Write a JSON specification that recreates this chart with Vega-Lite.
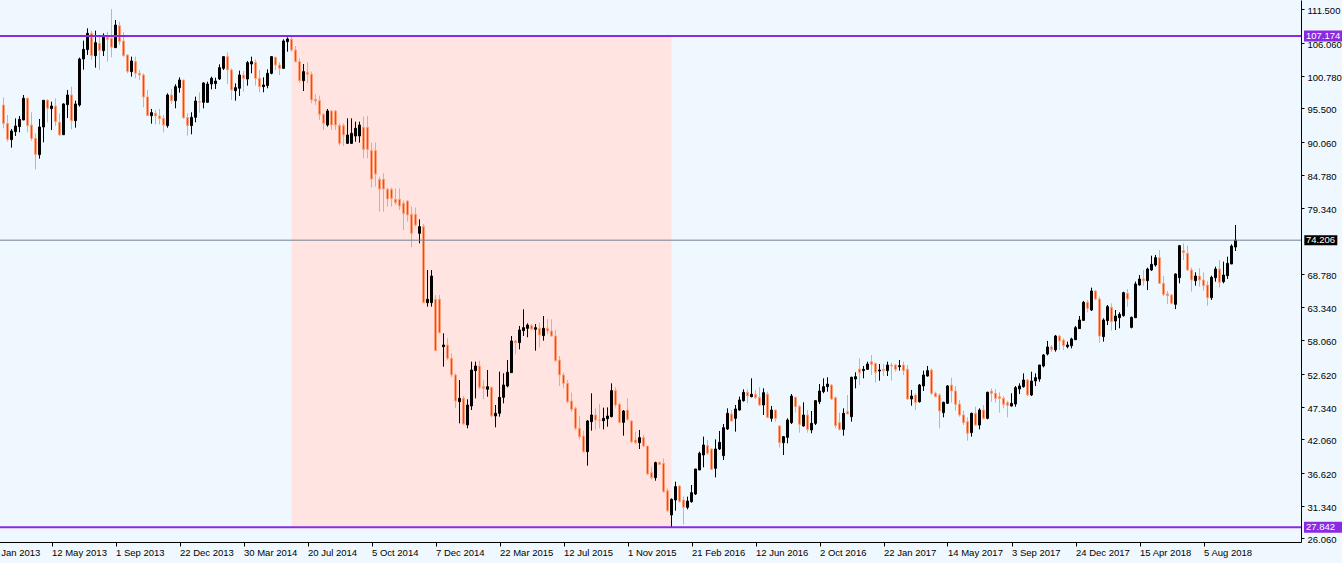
{
"$schema": "https://vega.github.io/schema/vega-lite/v6.json",
"width": 1317, "height": 542,
"autosize": {"type": "none"},
"padding": {"left": -16, "top": 0, "right": 41, "bottom": 21},
"background": "#F0F8FF",
"config": {
 "view": {"stroke": null, "fill": "#F0F8FF"},
 "font": "Liberation Sans",
 "scale": {"continuousPadding": 0},
 "axis": {"grid": false, "title": null, "domainColor": "#000000", "tickColor": "#000000", "labelColor": "#000000", "labelFont": "Liberation Sans", "labelFontSize": 9.5, "labelFlush": false, "labelOverlap": false, "labelBound": false},
 "axisX": {"tickSize": 4, "labelAlign": "left", "labelBaseline": "top", "labelPadding": 1},
 "axisY": {"tickSize": 3, "labelAlign": "left", "labelBaseline": "middle", "labelPadding": 3, "labelOffset": 1.5}
},
"datasets": {
"zone": [{"k1": 73, "k2": 168, "p1": 27.842, "p2": 107.174}],
"levels": [{"p": 107.174, "kind": "hi", "label": "107.174"}, {"p": 74.206, "kind": "cur", "label": "74.206"}, {"p": 27.842, "kind": "lo", "label": "27.842"}],
"candles": [
{"k":1,"o":96.03,"h":97.27,"l":92.27,"c":93.07},
{"k":2,"o":93.07,"h":94.42,"l":90.11,"c":90.49},
{"k":3,"o":90.44,"h":92.16,"l":89.15,"c":91.84},
{"k":4,"o":91.73,"h":93.88,"l":91.03,"c":92.64},
{"k":5,"o":92.54,"h":94.26,"l":91.62,"c":93.72},
{"k":6,"o":93.61,"h":97.65,"l":93.61,"c":97.11},
{"k":7,"o":97.11,"h":97.22,"l":91.62,"c":92.70},
{"k":8,"o":92.80,"h":94.85,"l":90.22,"c":90.65},
{"k":9,"o":90.65,"h":91.46,"l":85.65,"c":88.07},
{"k":10,"o":88.02,"h":93.77,"l":87.37,"c":92.48},
{"k":11,"o":92.48,"h":96.79,"l":90.01,"c":96.79},
{"k":12,"o":96.79,"h":97.00,"l":93.24,"c":95.50},
{"k":13,"o":95.44,"h":96.57,"l":92.00,"c":95.87},
{"k":14,"o":95.87,"h":97.11,"l":92.64,"c":93.34},
{"k":15,"o":93.24,"h":94.69,"l":91.08,"c":91.19},
{"k":16,"o":91.24,"h":96.30,"l":91.24,"c":96.20},
{"k":17,"o":96.09,"h":98.46,"l":93.94,"c":97.65},
{"k":18,"o":97.65,"h":99.00,"l":92.10,"c":93.50},
{"k":19,"o":93.50,"h":96.73,"l":92.37,"c":96.20},
{"k":20,"o":96.03,"h":103.68,"l":95.77,"c":103.46},
{"k":21,"o":103.46,"h":106.42,"l":101.74,"c":105.02},
{"k":22,"o":104.97,"h":108.41,"l":104.11,"c":107.61},
{"k":23,"o":107.61,"h":108.04,"l":103.30,"c":104.00},
{"k":24,"o":104.00,"h":108.04,"l":102.06,"c":106.10},
{"k":25,"o":105.99,"h":107.34,"l":101.69,"c":104.86},
{"k":26,"o":104.81,"h":107.61,"l":103.94,"c":106.96},
{"k":27,"o":106.96,"h":107.87,"l":103.03,"c":106.64},
{"k":28,"o":106.80,"h":111.53,"l":103.73,"c":105.35},
{"k":29,"o":105.29,"h":109.76,"l":105.29,"c":108.95},
{"k":30,"o":108.84,"h":109.49,"l":105.72,"c":106.26},
{"k":31,"o":106.37,"h":107.77,"l":103.84,"c":104.00},
{"k":32,"o":104.11,"h":104.21,"l":101.15,"c":101.42},
{"k":33,"o":101.42,"h":103.84,"l":100.61,"c":103.14},
{"k":34,"o":103.03,"h":103.84,"l":100.34,"c":101.15},
{"k":35,"o":101.15,"h":101.69,"l":100.07,"c":100.88},
{"k":36,"o":100.88,"h":101.15,"l":95.66,"c":97.33},
{"k":37,"o":97.33,"h":98.46,"l":94.31,"c":94.31},
{"k":38,"o":94.31,"h":95.39,"l":93.02,"c":94.80},
{"k":39,"o":94.69,"h":95.23,"l":92.91,"c":94.26},
{"k":40,"o":94.26,"h":95.39,"l":92.91,"c":93.88},
{"k":41,"o":93.88,"h":94.42,"l":91.62,"c":92.80},
{"k":42,"o":92.70,"h":97.92,"l":92.37,"c":97.65},
{"k":43,"o":97.65,"h":98.62,"l":96.20,"c":96.73},
{"k":44,"o":96.73,"h":99.37,"l":95.50,"c":99.00},
{"k":45,"o":98.83,"h":100.50,"l":98.03,"c":100.07},
{"k":46,"o":100.07,"h":100.07,"l":93.77,"c":93.99},
{"k":47,"o":93.99,"h":94.69,"l":91.08,"c":92.70},
{"k":48,"o":92.70,"h":94.85,"l":91.30,"c":94.04},
{"k":49,"o":94.04,"h":97.38,"l":93.24,"c":96.68},
{"k":50,"o":96.57,"h":98.08,"l":94.80,"c":96.47},
{"k":51,"o":96.47,"h":99.69,"l":95.50,"c":99.59},
{"k":52,"o":96.47,"h":99.80,"l":96.41,"c":99.42},
{"k":53,"o":99.42,"h":100.61,"l":98.56,"c":100.34},
{"k":54,"o":99.48,"h":100.45,"l":98.62,"c":99.91},
{"k":55,"o":100.23,"h":102.60,"l":100.07,"c":102.06},
{"k":56,"o":101.95,"h":103.84,"l":101.69,"c":103.84},
{"k":57,"o":103.84,"h":104.54,"l":99.42,"c":101.69},
{"k":58,"o":101.69,"h":101.95,"l":96.84,"c":98.46},
{"k":59,"o":98.35,"h":99.53,"l":96.73,"c":98.83},
{"k":60,"o":98.73,"h":101.58,"l":97.49,"c":100.88},
{"k":61,"o":100.88,"h":101.52,"l":98.19,"c":100.34},
{"k":62,"o":100.23,"h":103.14,"l":99.16,"c":102.87},
{"k":63,"o":102.65,"h":103.84,"l":101.15,"c":103.03},
{"k":64,"o":102.92,"h":103.41,"l":99.16,"c":100.34},
{"k":65,"o":100.34,"h":101.69,"l":98.08,"c":99.00},
{"k":66,"o":99.00,"h":100.50,"l":98.08,"c":99.26},
{"k":67,"o":99.16,"h":101.79,"l":98.73,"c":101.15},
{"k":68,"o":101.15,"h":103.94,"l":100.99,"c":103.84},
{"k":69,"o":103.73,"h":103.84,"l":101.68,"c":102.49},
{"k":70,"o":102.49,"h":102.92,"l":100.88,"c":101.95},
{"k":71,"o":101.95,"h":106.64,"l":101.95,"c":106.37},
{"k":72,"o":106.26,"h":106.96,"l":104.64,"c":106.69},
{"k":73,"o":106.64,"h":107.174,"l":104.64,"c":104.91},
{"k":74,"o":104.91,"h":105.56,"l":102.92,"c":103.03},
{"k":75,"o":103.03,"h":103.57,"l":99.64,"c":99.96},
{"k":76,"o":99.96,"h":102.65,"l":98.29,"c":101.42},
{"k":77,"o":101.31,"h":102.92,"l":99.53,"c":100.99},
{"k":78,"o":100.99,"h":101.42,"l":96.30,"c":96.84},
{"k":79,"o":96.95,"h":97.76,"l":96.03,"c":96.68},
{"k":80,"o":96.73,"h":97.54,"l":93.61,"c":94.53},
{"k":81,"o":94.53,"h":94.69,"l":92.00,"c":93.07},
{"k":82,"o":92.80,"h":95.39,"l":92.53,"c":95.07},
{"k":83,"o":95.07,"h":95.23,"l":92.00,"c":92.80},
{"k":84,"o":95.07,"h":95.23,"l":92.00,"c":92.80},
{"k":85,"o":92.70,"h":93.07,"l":89.47,"c":89.84},
{"k":86,"o":92.70,"h":93.07,"l":89.41,"c":91.19},
{"k":87,"o":89.84,"h":93.88,"l":89.74,"c":91.19},
{"k":88,"o":89.84,"h":93.88,"l":89.74,"c":91.46},
{"k":89,"o":91.03,"h":93.34,"l":90.11,"c":92.27},
{"k":90,"o":91.03,"h":93.34,"l":89.95,"c":92.80},
{"k":91,"o":92.43,"h":94.15,"l":87.42,"c":88.87},
{"k":92,"o":92.43,"h":94.26,"l":87.42,"c":88.87},
{"k":93,"o":88.66,"h":89.95,"l":82.69,"c":84.08},
{"k":94,"o":88.66,"h":89.95,"l":82.85,"c":84.89},
{"k":95,"o":84.03,"h":84.46,"l":78.81,"c":82.47},
{"k":96,"o":84.03,"h":85.00,"l":78.81,"c":82.47},
{"k":97,"o":82.42,"h":82.69,"l":79.62,"c":80.86},
{"k":98,"o":82.42,"h":82.69,"l":79.62,"c":80.96},
{"k":99,"o":80.80,"h":82.58,"l":79.89,"c":80.26},
{"k":100,"o":80.80,"h":82.58,"l":79.08,"c":79.73},
{"k":101,"o":80.16,"h":80.59,"l":75.85,"c":78.54},
{"k":102,"o":80.53,"h":80.69,"l":77.20,"c":78.27},
{"k":103,"o":78.38,"h":79.62,"l":73.05,"c":75.31},
{"k":104,"o":78.38,"h":79.46,"l":76.39,"c":76.66},
{"k":105,"o":75.31,"h":77.57,"l":73.70,"c":76.39},
{"k":106,"o":76.39,"h":76.82,"l":64.01,"c":64.12},
{"k":107,"o":64.12,"h":69.39,"l":63.47,"c":64.66},
{"k":108,"o":64.12,"h":69.39,"l":63.47,"c":68.42},
{"k":109,"o":64.66,"h":65.35,"l":56.37,"c":56.37},
{"k":110,"o":64.66,"h":65.35,"l":59.17,"c":59.27},
{"k":111,"o":57.01,"h":59.17,"l":53.78,"c":57.28},
{"k":112,"o":57.28,"h":58.36,"l":54.86,"c":55.13},
{"k":113,"o":55.13,"h":55.94,"l":52.06,"c":52.44},
{"k":114,"o":52.44,"h":52.71,"l":47.06,"c":48.24},
{"k":115,"o":48.13,"h":51.63,"l":44.63,"c":48.67},
{"k":116,"o":48.67,"h":49.05,"l":44.37,"c":44.53},
{"k":117,"o":44.37,"h":48.51,"l":43.83,"c":47.59},
{"k":118,"o":47.43,"h":54.59,"l":46.79,"c":53.24},
{"k":119,"o":53.14,"h":54.59,"l":48.67,"c":53.89},
{"k":120,"o":53.89,"h":54.75,"l":50.13,"c":50.45},
{"k":121,"o":50.55,"h":51.63,"l":48.51,"c":50.29},
{"k":122,"o":50.13,"h":53.24,"l":48.94,"c":50.55},
{"k":123,"o":50.45,"h":50.55,"l":45.60,"c":45.82},
{"k":124,"o":45.82,"h":47.59,"l":43.99,"c":46.25},
{"k":125,"o":46.25,"h":52.98,"l":45.71,"c":48.83},
{"k":126,"o":48.83,"h":52.71,"l":47.86,"c":50.82},
{"k":127,"o":50.66,"h":54.86,"l":50.45,"c":52.87},
{"k":128,"o":52.82,"h":58.74,"l":52.82,"c":57.93},
{"k":129,"o":57.93,"h":58.09,"l":55.77,"c":57.66},
{"k":130,"o":57.66,"h":60.35,"l":56.58,"c":59.70},
{"k":131,"o":59.60,"h":63.04,"l":58.74,"c":60.08},
{"k":132,"o":59.97,"h":60.78,"l":58.52,"c":60.51},
{"k":133,"o":60.40,"h":60.67,"l":59.70,"c":59.86},
{"k":134,"o":59.81,"h":60.67,"l":56.37,"c":60.08},
{"k":135,"o":59.97,"h":60.89,"l":56.90,"c":58.90},
{"k":136,"o":58.79,"h":61.96,"l":57.98,"c":59.97},
{"k":137,"o":59.97,"h":61.48,"l":59.00,"c":59.54},
{"k":138,"o":59.54,"h":61.42,"l":58.63,"c":58.73},
{"k":139,"o":58.73,"h":59.70,"l":54.59,"c":54.75},
{"k":140,"o":54.86,"h":55.50,"l":50.66,"c":52.44},
{"k":141,"o":52.44,"h":52.81,"l":50.28,"c":51.09},
{"k":142,"o":51.09,"h":51.63,"l":47.86,"c":48.13},
{"k":143,"o":48.24,"h":49.58,"l":46.52,"c":46.89},
{"k":144,"o":47.05,"h":47.32,"l":43.56,"c":43.83},
{"k":145,"o":43.83,"h":45.82,"l":42.04,"c":42.48},
{"k":146,"o":42.59,"h":43.45,"l":39.90,"c":40.06},
{"k":147,"o":40.06,"h":45.17,"l":37.80,"c":45.01},
{"k":148,"o":44.90,"h":49.48,"l":43.45,"c":45.98},
{"k":149,"o":45.98,"h":47.05,"l":43.66,"c":45.17},
{"k":150,"o":45.17,"h":47.75,"l":43.83,"c":45.12},
{"k":151,"o":45.06,"h":47.16,"l":43.66,"c":45.44},
{"k":152,"o":45.39,"h":47.21,"l":44.09,"c":45.82},
{"k":153,"o":45.71,"h":51.09,"l":45.60,"c":49.91},
{"k":154,"o":49.91,"h":50.45,"l":47.21,"c":47.59},
{"k":155,"o":47.70,"h":47.97,"l":44.63,"c":44.79},
{"k":156,"o":44.79,"h":46.78,"l":42.64,"c":46.62},
{"k":157,"o":46.78,"h":48.67,"l":45.06,"c":45.28},
{"k":158,"o":45.01,"h":45.17,"l":41.40,"c":41.67},
{"k":159,"o":41.94,"h":43.29,"l":41.30,"c":41.51},
{"k":160,"o":41.51,"h":43.56,"l":40.49,"c":42.32},
{"k":161,"o":42.32,"h":42.75,"l":40.76,"c":40.97},
{"k":162,"o":40.97,"h":40.97,"l":36.29,"c":36.45},
{"k":163,"o":36.67,"h":37.64,"l":35.59,"c":35.86},
{"k":164,"o":35.86,"h":38.44,"l":35.37,"c":38.28},
{"k":165,"o":38.34,"h":38.44,"l":37.90,"c":38.01},
{"k":166,"o":38.17,"h":38.98,"l":33.44,"c":33.60},
{"k":167,"o":33.76,"h":34.14,"l":30.26,"c":30.53},
{"k":168,"o":29.83,"h":32.52,"l":27.842,"c":32.36},
{"k":169,"o":32.25,"h":35.21,"l":30.53,"c":34.41},
{"k":170,"o":34.51,"h":34.68,"l":31.82,"c":31.98},
{"k":171,"o":32.25,"h":32.79,"l":28.32,"c":31.07},
{"k":172,"o":31.07,"h":32.79,"l":30.75,"c":32.09},
{"k":173,"o":31.98,"h":34.68,"l":31.82,"c":33.44},
{"k":174,"o":33.22,"h":37.26,"l":33.06,"c":37.26},
{"k":175,"o":37.10,"h":40.06,"l":37.10,"c":39.79},
{"k":176,"o":39.52,"h":42.48,"l":37.53,"c":41.13},
{"k":177,"o":41.02,"h":41.94,"l":39.52,"c":39.79},
{"k":178,"o":40.49,"h":40.60,"l":37.10,"c":37.21},
{"k":179,"o":37.37,"h":42.04,"l":35.91,"c":40.49},
{"k":180,"o":40.49,"h":43.40,"l":40.33,"c":41.56},
{"k":181,"o":39.41,"h":44.52,"l":38.71,"c":43.93},
{"k":182,"o":43.72,"h":47.05,"l":43.56,"c":46.25},
{"k":183,"o":46.14,"h":46.78,"l":44.90,"c":45.01},
{"k":184,"o":45.44,"h":47.59,"l":43.29,"c":46.95},
{"k":185,"o":46.78,"h":48.94,"l":46.68,"c":48.40},
{"k":186,"o":48.29,"h":50.12,"l":48.13,"c":49.64},
{"k":187,"o":49.64,"h":50.12,"l":47.86,"c":49.05},
{"k":188,"o":48.94,"h":51.90,"l":48.83,"c":49.32},
{"k":189,"o":49.32,"h":50.01,"l":48.51,"c":48.78},
{"k":190,"o":48.83,"h":50.45,"l":47.43,"c":47.59},
{"k":191,"o":47.59,"h":50.28,"l":45.98,"c":49.58},
{"k":192,"o":49.32,"h":49.75,"l":45.44,"c":45.60},
{"k":193,"o":45.44,"h":47.43,"l":44.90,"c":46.78},
{"k":194,"o":46.78,"h":46.78,"l":44.90,"c":45.44},
{"k":195,"o":44.20,"h":44.36,"l":40.70,"c":41.51},
{"k":196,"o":41.51,"h":42.59,"l":39.52,"c":42.48},
{"k":197,"o":42.37,"h":45.44,"l":41.40,"c":45.17},
{"k":198,"o":44.74,"h":49.37,"l":44.52,"c":49.04},
{"k":199,"o":48.83,"h":48.94,"l":46.35,"c":47.32},
{"k":200,"o":47.32,"h":47.59,"l":43.13,"c":44.47},
{"k":201,"o":44.20,"h":48.02,"l":44.09,"c":45.98},
{"k":202,"o":45.98,"h":46.78,"l":43.13,"c":43.66},
{"k":203,"o":43.56,"h":46.62,"l":43.02,"c":44.63},
{"k":204,"o":44.63,"h":48.40,"l":44.36,"c":48.29},
{"k":205,"o":48.13,"h":50.98,"l":47.75,"c":49.85},
{"k":206,"o":49.75,"h":51.90,"l":49.48,"c":50.55},
{"k":207,"o":50.55,"h":52.06,"l":49.75,"c":50.98},
{"k":208,"o":50.82,"h":50.98,"l":48.40,"c":48.56},
{"k":209,"o":48.78,"h":48.94,"l":43.82,"c":44.26},
{"k":210,"o":44.74,"h":46.35,"l":43.45,"c":43.66},
{"k":211,"o":43.66,"h":47.05,"l":42.64,"c":46.25},
{"k":212,"o":46.52,"h":49.21,"l":46.14,"c":46.14},
{"k":213,"o":45.71,"h":52.17,"l":44.90,"c":52.06},
{"k":214,"o":51.79,"h":52.87,"l":50.28,"c":52.17},
{"k":215,"o":53.41,"h":55.12,"l":50.82,"c":52.81},
{"k":216,"o":53.14,"h":53.89,"l":51.90,"c":53.35},
{"k":217,"o":53.35,"h":54.59,"l":53.24,"c":54.21},
{"k":218,"o":54.59,"h":55.67,"l":52.44,"c":54.16},
{"k":219,"o":54.32,"h":54.43,"l":51.19,"c":52.87},
{"k":220,"o":53.08,"h":54.21,"l":51.52,"c":53.24},
{"k":221,"o":53.35,"h":54.21,"l":52.27,"c":53.14},
{"k":222,"o":53.14,"h":54.59,"l":52.27,"c":54.05},
{"k":223,"o":54.05,"h":54.43,"l":51.52,"c":53.89},
{"k":224,"o":54.05,"h":54.21,"l":52.97,"c":53.35},
{"k":225,"o":53.78,"h":54.86,"l":53.14,"c":53.94},
{"k":226,"o":54.05,"h":54.59,"l":52.44,"c":53.14},
{"k":227,"o":53.35,"h":54.05,"l":48.40,"c":48.56},
{"k":228,"o":48.56,"h":50.01,"l":47.48,"c":49.04},
{"k":229,"o":49.21,"h":49.48,"l":46.78,"c":48.02},
{"k":230,"o":48.13,"h":50.98,"l":47.97,"c":50.82},
{"k":231,"o":50.66,"h":53.14,"l":49.85,"c":52.44},
{"k":232,"o":52.27,"h":53.89,"l":52.17,"c":53.14},
{"k":233,"o":53.24,"h":53.51,"l":49.21,"c":49.48},
{"k":234,"o":49.48,"h":49.75,"l":48.83,"c":48.94},
{"k":235,"o":49.21,"h":49.48,"l":43.82,"c":46.62},
{"k":236,"o":46.35,"h":48.13,"l":45.60,"c":48.02},
{"k":237,"o":47.86,"h":50.82,"l":47.75,"c":50.66},
{"k":238,"o":50.82,"h":52.00,"l":47.97,"c":49.85},
{"k":239,"o":49.85,"h":50.66,"l":46.68,"c":47.70},
{"k":240,"o":47.75,"h":48.40,"l":45.71,"c":45.98},
{"k":241,"o":45.98,"h":46.68,"l":44.36,"c":44.74},
{"k":242,"o":44.90,"h":45.60,"l":41.83,"c":43.02},
{"k":243,"o":43.13,"h":46.35,"l":42.48,"c":46.25},
{"k":244,"o":46.25,"h":47.32,"l":44.20,"c":44.36},
{"k":245,"o":44.36,"h":47.05,"l":43.66,"c":46.78},
{"k":246,"o":46.78,"h":47.59,"l":45.28,"c":45.44},
{"k":247,"o":45.44,"h":49.75,"l":45.28,"c":49.64},
{"k":248,"o":49.85,"h":50.28,"l":48.13,"c":49.48},
{"k":249,"o":49.48,"h":50.17,"l":47.97,"c":48.67},
{"k":250,"o":48.94,"h":49.64,"l":46.35,"c":48.67},
{"k":251,"o":48.67,"h":49.04,"l":47.05,"c":47.70},
{"k":252,"o":47.97,"h":48.29,"l":45.60,"c":47.54},
{"k":253,"o":47.43,"h":49.48,"l":47.32,"c":47.86},
{"k":254,"o":47.75,"h":50.66,"l":47.32,"c":50.39},
{"k":255,"o":50.17,"h":51.09,"l":49.37,"c":50.66},
{"k":256,"o":50.55,"h":52.70,"l":50.39,"c":51.63},
{"k":257,"o":51.63,"h":51.79,"l":49.04,"c":49.21},
{"k":258,"o":49.21,"h":52.97,"l":49.04,"c":51.47},
{"k":259,"o":51.47,"h":52.70,"l":50.66,"c":52.01},
{"k":260,"o":51.79,"h":54.05,"l":51.36,"c":54.05},
{"k":261,"o":53.89,"h":55.83,"l":53.67,"c":55.67},
{"k":262,"o":55.83,"h":57.93,"l":55.60,"c":56.96},
{"k":263,"o":56.96,"h":57.28,"l":56.20,"c":56.58},
{"k":264,"o":56.50,"h":58.90,"l":56.20,"c":58.73},
{"k":265,"o":58.73,"h":58.90,"l":56.50,"c":57.93},
{"k":266,"o":58.09,"h":58.36,"l":56.47,"c":57.17},
{"k":267,"o":57.01,"h":57.82,"l":56.74,"c":57.28},
{"k":268,"o":57.17,"h":58.46,"l":56.74,"c":58.25},
{"k":269,"o":58.14,"h":60.35,"l":58.09,"c":60.08},
{"k":270,"o":59.92,"h":61.96,"l":59.87,"c":61.32},
{"k":271,"o":61.26,"h":64.39,"l":61.16,"c":64.17},
{"k":272,"o":64.17,"h":64.55,"l":62.56,"c":63.20},
{"k":273,"o":62.93,"h":66.54,"l":62.77,"c":66.00},
{"k":274,"o":66.00,"h":66.16,"l":64.49,"c":64.71},
{"k":275,"o":64.71,"h":65.09,"l":57.66,"c":58.73},
{"k":276,"o":58.63,"h":61.59,"l":57.82,"c":61.32},
{"k":277,"o":61.21,"h":63.74,"l":60.51,"c":63.47},
{"k":278,"o":63.36,"h":64.01,"l":59.59,"c":61.05},
{"k":279,"o":61.16,"h":62.93,"l":59.70,"c":61.96},
{"k":280,"o":61.69,"h":62.56,"l":59.97,"c":62.23},
{"k":281,"o":62.02,"h":65.89,"l":61.86,"c":65.73},
{"k":282,"o":65.62,"h":66.32,"l":63.47,"c":64.71},
{"k":283,"o":60.13,"h":61.86,"l":59.97,"c":61.75},
{"k":284,"o":61.69,"h":67.51,"l":61.69,"c":67.13},
{"k":285,"o":66.97,"h":68.58,"l":66.86,"c":67.94},
{"k":286,"o":67.94,"h":69.39,"l":66.86,"c":67.67},
{"k":287,"o":67.67,"h":69.77,"l":66.16,"c":69.55},
{"k":288,"o":69.39,"h":71.70,"l":69.23,"c":70.31},
{"k":289,"o":70.20,"h":71.81,"l":69.93,"c":71.38},
{"k":290,"o":71.38,"h":72.62,"l":67.13,"c":67.24},
{"k":291,"o":67.24,"h":68.42,"l":65.19,"c":65.46},
{"k":292,"o":65.53,"h":66.00,"l":63.90,"c":65.25},
{"k":293,"o":65.35,"h":65.51,"l":63.85,"c":64.01},
{"k":294,"o":63.85,"h":68.85,"l":63.09,"c":68.74},
{"k":295,"o":68.15,"h":73.43,"l":67.24,"c":73.32},
{"k":296,"o":72.51,"h":73.70,"l":71.00,"c":72.19},
{"k":297,"o":72.08,"h":73.32,"l":69.23,"c":69.39},
{"k":298,"o":69.39,"h":69.77,"l":65.89,"c":67.77},
{"k":299,"o":67.67,"h":69.01,"l":66.86,"c":68.42},
{"k":300,"o":68.42,"h":69.66,"l":66.70,"c":67.77},
{"k":301,"o":67.77,"h":69.01,"l":66.05,"c":66.86},
{"k":302,"o":66.97,"h":67.61,"l":63.63,"c":64.92},
{"k":303,"o":64.92,"h":68.47,"l":64.55,"c":68.21},
{"k":304,"o":68.15,"h":69.93,"l":67.51,"c":69.55},
{"k":305,"o":69.55,"h":71.00,"l":66.54,"c":67.40},
{"k":306,"o":67.51,"h":70.74,"l":67.24,"c":68.58},
{"k":307,"o":68.47,"h":71.54,"l":67.94,"c":70.47},
{"k":308,"o":70.36,"h":73.53,"l":70.36,"c":73.26},
{"k":309,"o":73.10,"h":76.66,"l":72.46,"c":74.206}
]
},
"layer": [
{"data": {"name": "zone"}, "mark": {"type": "rect", "color": "#FFE4E1"},
 "encoding": {
  "x": {"field": "k1", "type": "quantitative", "scale": {"domain": [-3.875, 325.375], "nice": false, "zero": false, "padding": 0},
   "axis": {"values": [-3,13,29,45,61,77,93,109,125,141,157,173,189,205,221,237,253,269,285,301], "labelExpr": "['20 Jan 2013','12 May 2013','1 Sep 2013','22 Dec 2013','30 Mar 2014','20 Jul 2014','5 Oct 2014','7 Dec 2014','22 Mar 2015','12 Jul 2015','1 Nov 2015','21 Feb 2016','12 Jun 2016','2 Oct 2016','22 Jan 2017','14 May 2017','3 Sep 2017','24 Dec 2017','15 Apr 2018','5 Aug 2018'][round((datum.value + 3) / 16)]"}},
  "x2": {"field": "k2"},
  "y": {"field": "p1", "type": "quantitative", "scale": {"domain": [25.47, 112.987], "nice": false, "zero": false, "padding": 0},
   "axis": {"orient": "right", "values": [26.06,31.34,36.62,42.06,47.34,52.62,58.06,63.34,68.78,79.34,84.78,90.06,95.5,100.78,106.06,111.5], "format": ".3f"}},
  "y2": {"field": "p2"}}},
{"data": {"name": "candles"}, "transform": [{"filter": "datum.c >= datum.o"}],
 "mark": {"type": "rule", "color": "#000000", "strokeWidth": 1},
 "encoding": {
  "x": {"field": "k", "type": "quantitative", "scale": {"domain": [-3.875, 325.375], "nice": false, "zero": false, "padding": 0},
   "axis": {"values": [-3,13,29,45,61,77,93,109,125,141,157,173,189,205,221,237,253,269,285,301], "labelExpr": "['20 Jan 2013','12 May 2013','1 Sep 2013','22 Dec 2013','30 Mar 2014','20 Jul 2014','5 Oct 2014','7 Dec 2014','22 Mar 2015','12 Jul 2015','1 Nov 2015','21 Feb 2016','12 Jun 2016','2 Oct 2016','22 Jan 2017','14 May 2017','3 Sep 2017','24 Dec 2017','15 Apr 2018','5 Aug 2018'][round((datum.value + 3) / 16)]"}},
  "y": {"field": "l", "type": "quantitative", "scale": {"domain": [25.47, 112.987], "nice": false, "zero": false, "padding": 0},
   "axis": {"orient": "right", "values": [26.06,31.34,36.62,42.06,47.34,52.62,58.06,63.34,68.78,79.34,84.78,90.06,95.5,100.78,106.06,111.5], "format": ".3f"}},
  "y2": {"field": "h"}}},
{"data": {"name": "candles"}, "transform": [{"filter": "datum.c < datum.o"}],
 "mark": {"type": "rule", "color": "#FFA07A", "strokeWidth": 1},
 "encoding": {
  "x": {"field": "k", "type": "quantitative", "scale": {"domain": [-3.875, 325.375], "nice": false, "zero": false, "padding": 0},
   "axis": {"values": [-3,13,29,45,61,77,93,109,125,141,157,173,189,205,221,237,253,269,285,301], "labelExpr": "['20 Jan 2013','12 May 2013','1 Sep 2013','22 Dec 2013','30 Mar 2014','20 Jul 2014','5 Oct 2014','7 Dec 2014','22 Mar 2015','12 Jul 2015','1 Nov 2015','21 Feb 2016','12 Jun 2016','2 Oct 2016','22 Jan 2017','14 May 2017','3 Sep 2017','24 Dec 2017','15 Apr 2018','5 Aug 2018'][round((datum.value + 3) / 16)]"}},
  "y": {"field": "l", "type": "quantitative", "scale": {"domain": [25.47, 112.987], "nice": false, "zero": false, "padding": 0},
   "axis": {"orient": "right", "values": [26.06,31.34,36.62,42.06,47.34,52.62,58.06,63.34,68.78,79.34,84.78,90.06,95.5,100.78,106.06,111.5], "format": ".3f"}},
  "y2": {"field": "h"}}},
{"data": {"name": "candles"}, "transform": [{"filter": "datum.c >= datum.o"}],
 "mark": {"type": "bar", "width": 2, "fill": "#000000", "stroke": "#000000", "strokeWidth": 1, "opacity": 1},
 "encoding": {
  "x": {"field": "k", "type": "quantitative", "scale": {"domain": [-3.875, 325.375], "nice": false, "zero": false, "padding": 0},
   "axis": {"values": [-3,13,29,45,61,77,93,109,125,141,157,173,189,205,221,237,253,269,285,301], "labelExpr": "['20 Jan 2013','12 May 2013','1 Sep 2013','22 Dec 2013','30 Mar 2014','20 Jul 2014','5 Oct 2014','7 Dec 2014','22 Mar 2015','12 Jul 2015','1 Nov 2015','21 Feb 2016','12 Jun 2016','2 Oct 2016','22 Jan 2017','14 May 2017','3 Sep 2017','24 Dec 2017','15 Apr 2018','5 Aug 2018'][round((datum.value + 3) / 16)]"}},
  "y": {"field": "o", "type": "quantitative", "scale": {"domain": [25.47, 112.987], "nice": false, "zero": false, "padding": 0},
   "axis": {"orient": "right", "values": [26.06,31.34,36.62,42.06,47.34,52.62,58.06,63.34,68.78,79.34,84.78,90.06,95.5,100.78,106.06,111.5], "format": ".3f"}},
  "y2": {"field": "c"}}},
{"data": {"name": "candles"}, "transform": [{"filter": "datum.c < datum.o"}],
 "mark": {"type": "bar", "width": 2, "fill": "#FF4500", "stroke": "#FFA07A", "strokeWidth": 1, "opacity": 1},
 "encoding": {
  "x": {"field": "k", "type": "quantitative", "scale": {"domain": [-3.875, 325.375], "nice": false, "zero": false, "padding": 0},
   "axis": {"values": [-3,13,29,45,61,77,93,109,125,141,157,173,189,205,221,237,253,269,285,301], "labelExpr": "['20 Jan 2013','12 May 2013','1 Sep 2013','22 Dec 2013','30 Mar 2014','20 Jul 2014','5 Oct 2014','7 Dec 2014','22 Mar 2015','12 Jul 2015','1 Nov 2015','21 Feb 2016','12 Jun 2016','2 Oct 2016','22 Jan 2017','14 May 2017','3 Sep 2017','24 Dec 2017','15 Apr 2018','5 Aug 2018'][round((datum.value + 3) / 16)]"}},
  "y": {"field": "o", "type": "quantitative", "scale": {"domain": [25.47, 112.987], "nice": false, "zero": false, "padding": 0},
   "axis": {"orient": "right", "values": [26.06,31.34,36.62,42.06,47.34,52.62,58.06,63.34,68.78,79.34,84.78,90.06,95.5,100.78,106.06,111.5], "format": ".3f"}},
  "y2": {"field": "c"}}},
{"data": {"name": "levels"}, "transform": [{"filter": "datum.kind == 'cur'"}],
 "mark": {"type": "rule", "color": "#708090", "strokeWidth": 1},
 "encoding": {
  "y": {"field": "p", "type": "quantitative", "scale": {"domain": [25.47, 112.987], "nice": false, "zero": false, "padding": 0},
   "axis": {"orient": "right", "values": [26.06,31.34,36.62,42.06,47.34,52.62,58.06,63.34,68.78,79.34,84.78,90.06,95.5,100.78,106.06,111.5], "format": ".3f"}}}},
{"data": {"name": "levels"}, "transform": [{"filter": "datum.kind != 'cur'"}],
 "mark": {"type": "rule", "color": "#8A2BE2", "strokeWidth": 2},
 "encoding": {
  "y": {"field": "p", "type": "quantitative", "scale": {"domain": [25.47, 112.987], "nice": false, "zero": false, "padding": 0},
   "axis": {"orient": "right", "values": [26.06,31.34,36.62,42.06,47.34,52.62,58.06,63.34,68.78,79.34,84.78,90.06,95.5,100.78,106.06,111.5], "format": ".3f"}}}},
{"data": {"name": "levels"}, "transform": [{"filter": "datum.kind != 'cur'"}],
 "mark": {"type": "tick", "orient": "horizontal", "size": 40, "thickness": 11, "color": "#8A2BE2", "opacity": 1},
 "encoding": {
  "x": {"datum": 331.125, "type": "quantitative", "scale": {"domain": [-3.875, 325.375], "nice": false, "zero": false, "padding": 0},
   "axis": {"values": [-3,13,29,45,61,77,93,109,125,141,157,173,189,205,221,237,253,269,285,301], "labelExpr": "['20 Jan 2013','12 May 2013','1 Sep 2013','22 Dec 2013','30 Mar 2014','20 Jul 2014','5 Oct 2014','7 Dec 2014','22 Mar 2015','12 Jul 2015','1 Nov 2015','21 Feb 2016','12 Jun 2016','2 Oct 2016','22 Jan 2017','14 May 2017','3 Sep 2017','24 Dec 2017','15 Apr 2018','5 Aug 2018'][round((datum.value + 3) / 16)]"}},
  "y": {"field": "p", "type": "quantitative", "scale": {"domain": [25.47, 112.987], "nice": false, "zero": false, "padding": 0},
   "axis": {"orient": "right", "values": [26.06,31.34,36.62,42.06,47.34,52.62,58.06,63.34,68.78,79.34,84.78,90.06,95.5,100.78,106.06,111.5], "format": ".3f"}}}},
{"data": {"name": "levels"}, "transform": [{"filter": "datum.kind == 'cur'"}],
 "mark": {"type": "tick", "orient": "horizontal", "size": 33, "thickness": 10, "color": "#000000", "opacity": 1},
 "encoding": {
  "x": {"datum": 330.33, "type": "quantitative", "scale": {"domain": [-3.875, 325.375], "nice": false, "zero": false, "padding": 0},
   "axis": {"values": [-3,13,29,45,61,77,93,109,125,141,157,173,189,205,221,237,253,269,285,301], "labelExpr": "['20 Jan 2013','12 May 2013','1 Sep 2013','22 Dec 2013','30 Mar 2014','20 Jul 2014','5 Oct 2014','7 Dec 2014','22 Mar 2015','12 Jul 2015','1 Nov 2015','21 Feb 2016','12 Jun 2016','2 Oct 2016','22 Jan 2017','14 May 2017','3 Sep 2017','24 Dec 2017','15 Apr 2018','5 Aug 2018'][round((datum.value + 3) / 16)]"}},
  "y": {"field": "p", "type": "quantitative", "scale": {"domain": [25.47, 112.987], "nice": false, "zero": false, "padding": 0},
   "axis": {"orient": "right", "values": [26.06,31.34,36.62,42.06,47.34,52.62,58.06,63.34,68.78,79.34,84.78,90.06,95.5,100.78,106.06,111.5], "format": ".3f"}}}},
{"data": {"name": "levels"},
 "mark": {"type": "text", "align": "left", "baseline": "middle", "color": "#FFFFFF", "font": "Liberation Sans", "fontSize": 9.5},
 "encoding": {
  "x": {"datum": 326.625, "type": "quantitative", "scale": {"domain": [-3.875, 325.375], "nice": false, "zero": false, "padding": 0},
   "axis": {"values": [-3,13,29,45,61,77,93,109,125,141,157,173,189,205,221,237,253,269,285,301], "labelExpr": "['20 Jan 2013','12 May 2013','1 Sep 2013','22 Dec 2013','30 Mar 2014','20 Jul 2014','5 Oct 2014','7 Dec 2014','22 Mar 2015','12 Jul 2015','1 Nov 2015','21 Feb 2016','12 Jun 2016','2 Oct 2016','22 Jan 2017','14 May 2017','3 Sep 2017','24 Dec 2017','15 Apr 2018','5 Aug 2018'][round((datum.value + 3) / 16)]"}},
  "y": {"field": "p", "type": "quantitative", "scale": {"domain": [25.47, 112.987], "nice": false, "zero": false, "padding": 0},
   "axis": {"orient": "right", "values": [26.06,31.34,36.62,42.06,47.34,52.62,58.06,63.34,68.78,79.34,84.78,90.06,95.5,100.78,106.06,111.5], "format": ".3f"}},
  "text": {"field": "label"}}}
]
}
